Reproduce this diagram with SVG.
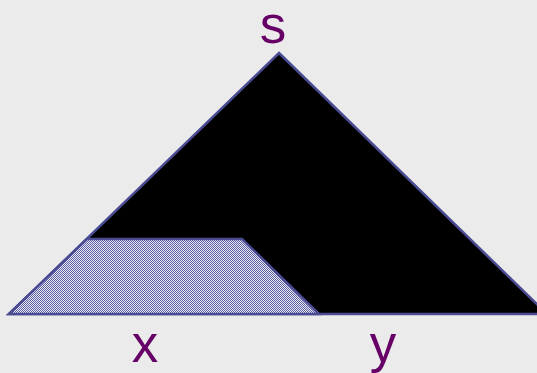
<svg xmlns="http://www.w3.org/2000/svg" width="537" height="373" viewBox="0 0 537 373">
<style>
.lbl{font-family:"Liberation Sans",Arial,sans-serif;font-size:53px;fill:#660066;text-anchor:middle}
.edge{stroke:#4b4b94;stroke-width:2.5;stroke-linejoin:miter}
</style>
<defs>
<pattern id="hatch" width="2" height="2" patternUnits="userSpaceOnUse">
<rect width="2" height="2" fill="#ececf4"/>
<rect width="1" height="1" fill="#5e5ea4"/>
<rect x="1" y="1" width="1" height="1" fill="#5e5ea4"/>
</pattern>
</defs>
<rect width="537" height="373" fill="#ebebeb"/>
<g id="triangle">
<polygon class="edge" points="279,53 547,314 9,314" fill="#000"/>
</g>
<g id="trapezoid">
<polygon class="edge" points="9,314 87,239 242,239 319,314" fill="url(#hatch)"/>
</g>
<g id="label-s"><text class="lbl" x="273" y="43">s</text></g>
<g id="label-x"><text class="lbl" x="145" y="362">x</text></g>
<g id="label-y"><text class="lbl" x="383" y="362">y</text></g>
<g id="connectors"/>
</svg>
